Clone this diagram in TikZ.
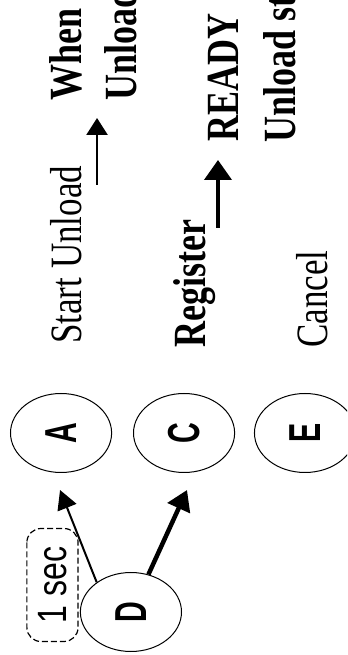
\documentclass[tikz,border=0pt]{standalone}
\usepackage{fontspec}
\setmainfont{Liberation Serif}
\setsansfont{Liberation Sans}
\usetikzlibrary{arrows.meta}

\begin{document}
\begin{tikzpicture}[x = {(0pt,1pt)},
  y = {(-1.28pt,0pt)},
  every node/.append style = {rotate=90, yscale=1.28},
  state/.style = {circle, draw, line width=1pt, minimum size=79pt, inner sep=0pt,
    font=\sffamily\bfseries\fontsize{35}{35}\selectfont},
  timer/.style = {draw, dash pattern=on 6pt off 3pt, line width=1.2pt,
    rounded corners=14pt, minimum width=113pt, minimum height=40pt, inner sep=0pt,
    font=\sffamily\fontsize{32}{32}\selectfont},
  txt/.style = {anchor=base west, inner sep=0pt, font=\fontsize{35}{40}\selectfont},
  btxt/.style = {txt, font=\bfseries\fontsize{36}{40}\selectfont},
  tarr/.style = {line width=2pt, -{Triangle[length=19pt,width=20pt]}},
  barr/.style = {line width=4.5pt, -{Triangle[length=20pt,width=24pt]}},
  marr/.style = {line width=2.5pt, -{Triangle[length=17pt,width=21pt]}},
  rarr/.style = {line width=4pt, -{Triangle[length=20pt,width=27pt]}}]

  \useasboundingbox (0,0) rectangle (655,-271.1);
  \clip (0,0) rectangle (655,-271.1);

  % states
  \foreach \n/\b in {A/-47.7, C/-143.8, E/-238.3}
  \node[state] (\n) at (222,\b) {\scalebox{.82}[1]{\n}};
  \node[state] (D) at (43,-102.3) {\scalebox{.82}[1]{D}};
  \node[timer] (T) at (70,-41) {1 sec};

  % transitions
  \coordinate (tA) at (165,-46.9);
  \coordinate (tC) at (165,-146.1);
  \draw[tarr] (D.42) -- (tA);
  \draw[barr] (D.-20) -- (tC);

  % labels
  \node[txt] (start) at (311,-63.3) {Start Unload};
  \node[btxt] (reg) at (307.5,-160.2) {Register};
  \node[txt] (cancel) at (307,-256) {Cancel};
  \node[btxt] (when) at (554.5,-63.3) {When};
  \node[btxt] (unl) at (554,-107) {Unload};
  \node[btxt] (ready) at (513,-186) {READY};
  \node[btxt] (unlst) at (512,-230.5) {Unload st};

  % results
  \coordinate (s1) at (470,-75.8);
  \coordinate (s2) at (537,-75.8);
  \coordinate (r1) at (427,-170.3);
  \coordinate (r2) at (495,-170.3);
  \draw[marr] (s1) -- (s2);
  \draw[rarr] (r1) -- (r2);
\end{tikzpicture}
\end{document}
